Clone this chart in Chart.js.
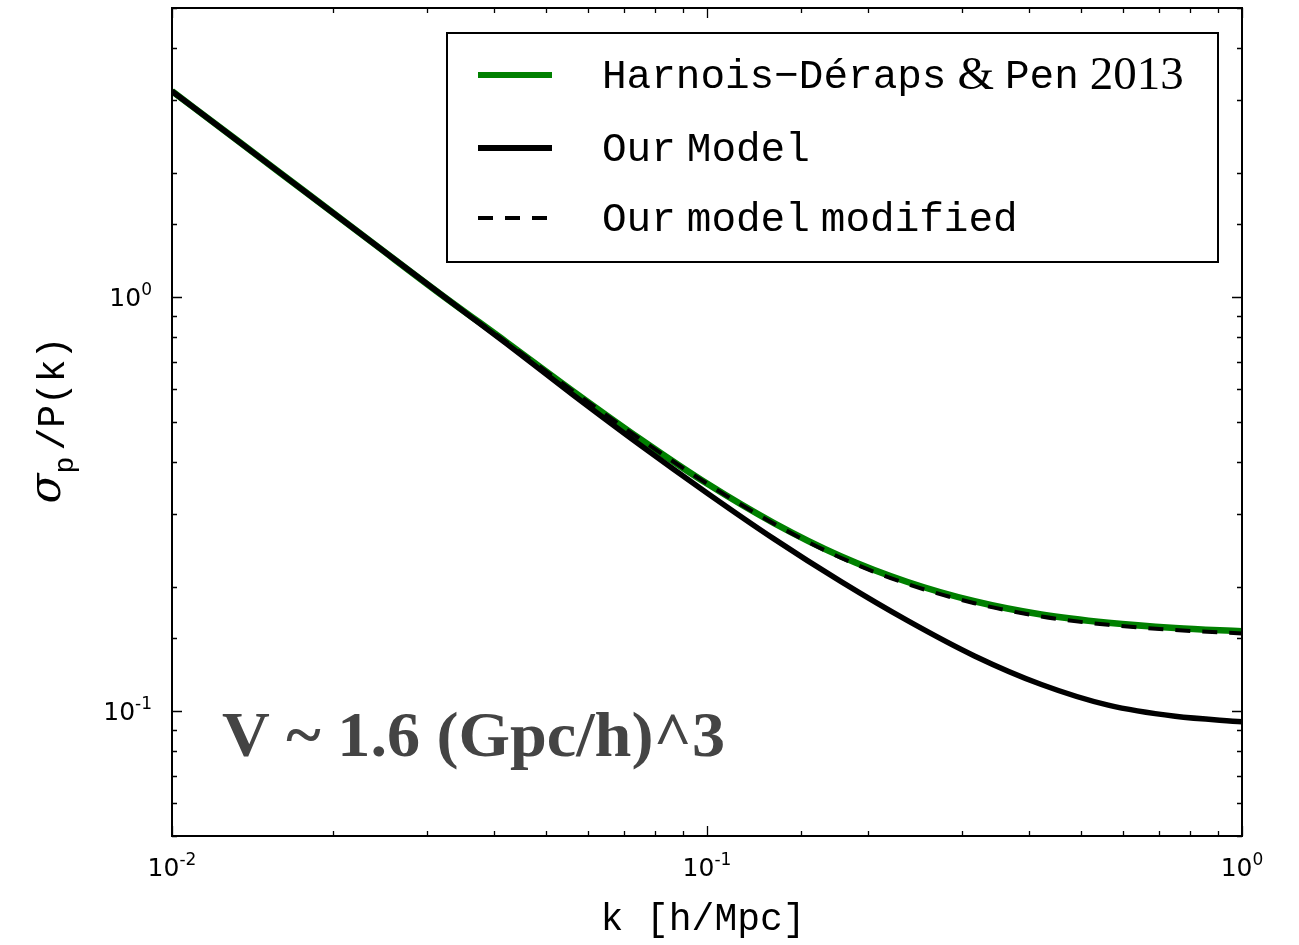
<!DOCTYPE html>
<html>
<head>
<meta charset="utf-8">
<script src="https://cdn.jsdelivr.net/npm/chart.js@4.4.1/dist/chart.umd.min.js"></script>
<style>
  html, body { margin: 0; padding: 0; background: #fff; }
  #wrap { width: 1299px; height: 945px; }
</style>
</head>
<body>
<div id="wrap"><canvas id="sigmaChart" width="1299" height="945"></canvas></div>
<script>
// k [h/Mpc] sample points (even spacing in log k)
const kValues = [0.01, 0.01334, 0.01778, 0.02371, 0.03162, 0.04217, 0.05623, 0.07499, 0.1,
                 0.1334, 0.1778, 0.2371, 0.3162, 0.4217, 0.5623, 0.7499, 1.0];
// sigma_p / P(k)
const harnoisValues  = [3.148, 2.377, 1.795, 1.355, 1.023, 0.780, 0.593, 0.455, 0.355,
                        0.285, 0.237, 0.2053, 0.1845, 0.1714, 0.1637, 0.1590, 0.1561];
const modelValues    = [3.148, 2.377, 1.795, 1.355, 1.023, 0.773, 0.581, 0.440, 0.337,
                        0.261, 0.206, 0.1656, 0.1361, 0.1161, 0.1035, 0.0973, 0.0944];
const modifiedValues = [3.148, 2.377, 1.795, 1.355, 1.023, 0.780, 0.593, 0.455, 0.355,
                        0.284, 0.235, 0.203, 0.1825, 0.1695, 0.1618, 0.1572, 0.1543];

const seriesLabels = ["Harnois\u2212D\u00e9raps & Pen 2013", "Our Model", "Our model modified"];

// tick labels (10^n)
const xMajorTicks = [0.01, 0.1, 1];
const xMajorExponents = ["-2", "-1", "0"];
const yMajorTicks = [0.1, 1];
const yMajorExponents = ["-1", "0"];

const annotationText = "V ~ 1.6 (Gpc/h)^3";

const toPoints = vals => kValues.map((k, i) => ({ x: k, y: vals[i] }));
const isPow10 = v => Math.abs(Math.log10(v) - Math.round(Math.log10(v))) < 1e-6;

// inward ticks on all four sides + frame (matplotlib style)
const frameTicks = {
  id: "frameTicks",
  afterDatasetsDraw(chart) {
    const { ctx, chartArea: a, scales } = chart;
    ctx.save();
    ctx.strokeStyle = "#000";
    ctx.lineWidth = 1.3;
    ctx.beginPath();
    scales.x.ticks.forEach(t => {
      const px = Math.round(scales.x.getPixelForValue(t.value)) + 0.5;
      const len = isPow10(t.value) ? 10 : 5;
      ctx.moveTo(px, a.bottom); ctx.lineTo(px, a.bottom - len);
      ctx.moveTo(px, a.top); ctx.lineTo(px, a.top + len);
    });
    scales.y.ticks.forEach(t => {
      const py = Math.round(scales.y.getPixelForValue(t.value)) + 0.5;
      const len = isPow10(t.value) ? 10 : 5;
      ctx.moveTo(a.left, py); ctx.lineTo(a.left + len, py);
      ctx.moveTo(a.right, py); ctx.lineTo(a.right - len, py);
    });
    ctx.stroke();
    ctx.lineWidth = 2;
    ctx.strokeRect(a.left, a.top, a.right - a.left, a.bottom - a.top);

    // 10^n labels
    const fBase = '25px "DejaVu Sans"', fExp = '17px "DejaVu Sans"';
    ctx.fillStyle = "#000";
    ctx.textBaseline = "alphabetic";
    ctx.textAlign = "left";
    const measure = (e) => {
      ctx.font = fBase; const wb = ctx.measureText("10").width;
      ctx.font = fExp; const we = ctx.measureText(e).width;
      return [wb, we];
    };
    const put = (e, left, base) => {
      const [wb] = measure(e);
      ctx.font = fBase; ctx.fillText("10", left, base);
      ctx.font = fExp; ctx.fillText(e, left + wb, base - 11);
    };
    xMajorTicks.forEach((v, i) => {
      const px = scales.x.getPixelForValue(v);
      const [wb, we] = measure(xMajorExponents[i]);
      put(xMajorExponents[i], px - (wb + we) / 2, a.bottom + 40);
    });
    yMajorTicks.forEach((v, i) => {
      const py = scales.y.getPixelForValue(v);
      const [wb, we] = measure(yMajorExponents[i]);
      put(yMajorExponents[i], a.left - 20 - wb - we, py + 9);
    });
    ctx.restore();
  }
};

// legend box, annotation and axis titles
const extras = {
  id: "extras",
  afterDraw(chart) {
    const { ctx } = chart;
    ctx.save();

    // legend
    const bx = 447, by = 33, bw = 771, bh = 229;
    ctx.fillStyle = "#fff";
    ctx.fillRect(bx, by, bw, bh);
    ctx.strokeStyle = "#000";
    ctx.lineWidth = 2;
    ctx.strokeRect(bx, by, bw, bh);
    const rows = [75, 148, 218];
    const fMono = '41px "Liberation Mono"', fRoman = '47px "Liberation Serif"';
    chart.data.datasets.forEach(ds => {
      const y = rows[ds.legendRow];
      ctx.beginPath();
      ctx.strokeStyle = ds.borderColor;
      ctx.lineWidth = ds.legendWidth;
      ctx.setLineDash(ds.borderDash || []);
      ctx.moveTo(478, y); ctx.lineTo(552, y);
      ctx.stroke();
      ctx.setLineDash([]);
      ctx.fillStyle = "#000";
      ctx.textBaseline = "middle";
      ctx.textAlign = "left";
      let x = 602;
      ds.label.split(" ").forEach(word => {
        const roman = word === "&" || /^\d+$/.test(word);
        ctx.font = roman ? fRoman : fMono;
        ctx.fillText(word, x, y + 2);
        x += ctx.measureText(word).width + 11;
      });
    });

    // annotation
    ctx.fillStyle = "#444";
    ctx.font = 'bold 64px "Liberation Serif"';
    ctx.textBaseline = "alphabetic";
    ctx.textAlign = "left";
    const w = ctx.measureText(annotationText).width;
    ctx.save();
    ctx.translate(222, 756);
    ctx.scale(503 / w, 1);
    ctx.fillText(annotationText, 0, 0);
    ctx.restore();

    // x title
    ctx.fillStyle = "#000";
    ctx.font = '38px "Liberation Mono"';
    ctx.textAlign = "center";
    ctx.fillText("k [h/Mpc]", 703, 930);

    // y title
    ctx.save();
    ctx.translate(64, 420);
    ctx.rotate(-Math.PI / 2);
    ctx.textAlign = "left";
    const fSig = 'italic 44px "DejaVu Serif"';
    const fSub = '28px "Liberation Mono"';
    const fMain = '38px "Liberation Mono"';
    ctx.font = fSig; const w1 = ctx.measureText("\u03c3").width;
    ctx.font = fSub; const w2 = ctx.measureText("p").width;
    ctx.font = fMain; const w3 = ctx.measureText("/P(k)").width;
    let x0 = -(w1 + w2 + 6 + w3) / 2;
    ctx.font = fSig; ctx.fillText("\u03c3", x0, -4); x0 += w1;
    ctx.font = fSub; ctx.fillText("p", x0, 9); x0 += w2 + 6;
    ctx.font = fMain; ctx.fillText("/P(k)", x0, 0);
    ctx.restore();

    ctx.restore();
  }
};

new Chart(document.getElementById("sigmaChart").getContext("2d"), {
  type: "line",
  data: {
    datasets: [
      {
        label: seriesLabels[0],
        data: toPoints(harnoisValues),
        borderColor: "#008000",
        borderWidth: 6.5,
        legendWidth: 6,
        order: 3,
        legendRow: 0
      },
      {
        label: seriesLabels[1],
        data: toPoints(modelValues),
        borderColor: "#000000",
        borderWidth: 5.5,
        legendWidth: 6,
        order: 2,
        legendRow: 1
      },
      {
        label: seriesLabels[2],
        data: toPoints(modifiedValues),
        borderColor: "#000000",
        borderWidth: 4,
        legendWidth: 4,
        borderDash: [15, 12],
        order: 1,
        legendRow: 2
      }
    ]
  },
  options: {
    responsive: false,
    animation: false,
    layout: { padding: { top: 8, right: 57, left: 0, bottom: 0 } },
    elements: {
      point: { radius: 0 },
      line: { cubicInterpolationMode: "monotone", fill: false }
    },
    plugins: {
      legend: { display: false },
      tooltip: { enabled: false }
    },
    scales: {
      x: {
        type: "logarithmic",
        min: 0.01,
        max: 1,
        grid: { display: false, drawTicks: false },
        border: { display: false },
        afterFit: s => { s.height = 109; s.paddingLeft = 0; s.paddingRight = 0; },
        ticks: { autoSkip: false, maxRotation: 0, callback: () => "" }
      },
      y: {
        type: "logarithmic",
        min: 0.05,
        max: 5,
        grid: { display: false, drawTicks: false },
        border: { display: false },
        afterFit: s => { s.width = 172; s.paddingTop = 0; s.paddingBottom = 0; },
        ticks: { autoSkip: false, callback: () => "" }
      }
    }
  },
  plugins: [frameTicks, extras]
});
</script>
</body>
</html>
